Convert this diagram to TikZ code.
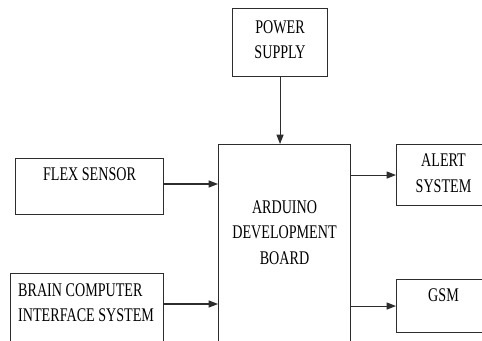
\documentclass[tikz,border=0pt]{standalone}
\usepackage{fontspec}
\setmainfont{Liberation Serif}
\newfontfamily\narrowfont[FakeStretch=0.73]{Liberation Serif}
\usetikzlibrary{arrows.meta,positioning}
\definecolor{linegray}{RGB}{45,45,45}

\begin{document}
\begin{tikzpicture}[
  x=0.03cm, y=-0.03cm,
  box/.style={draw=linegray, line width=0.9pt, anchor=north west, inner sep=0pt},
  txt/.style={font=\narrowfont\fontsize{16.5}{22}\selectfont, inner sep=0pt, align=center, text=black},
  arr/.style={-{Triangle[length=8pt,width=6pt]}, draw=linegray, line width=0.9pt}
]
\useasboundingbox[fill=white] (0,0) rectangle (482,341);
\clip (0,0) rectangle (482,341);

% blocks
\node[box, minimum width=2.85cm, minimum height=2.04cm] (power) at (232,8) {};
\node[box, minimum width=3.96cm, minimum height=7.5cm] (arduino) at (218,144) {};
\node[box, minimum width=4.44cm, minimum height=1.68cm] (flex) at (15,158) {};
\node[box, minimum width=4.59cm, minimum height=3cm] (bci) at (10,273) {};
\node[box, minimum width=2.82cm, minimum height=1.83cm] (alert) at (396,144) {};
\node[box, minimum width=2.82cm, minimum height=1.59cm] (gsm) at (396,279) {};

% block texts
\node[txt, below=0.36cm of power.north] (power-txt) {POWER\\SUPPLY};
\node[txt, below=1.68cm of arduino.north] (arduino-txt) {ARDUINO\\DEVELOPMENT\\BOARD};
\node[txt, below=0.27cm of flex.north] (flex-txt) {FLEX SENSOR};
\node[txt, align=left, below right=0.3cm and 0.24cm of bci.north west] (bci-txt) {BRAIN COMPUTER\\INTERFACE SYSTEM};
\node[txt, below=0.3cm of alert.north] (alert-txt) {ALERT\\SYSTEM};
\node[txt, below=0.27cm of gsm.north] (gsm-txt) {GSM};

% connections
\draw[arr] (power.south) -- (power.south |- arduino.north);
\draw[arr] ([yshift=-0.78cm]flex.north east) -- ([yshift=-0.78cm]flex.north east -| arduino.west);
\draw[arr] ([yshift=-0.93cm]bci.north east) -- ([yshift=-0.93cm]bci.north east -| arduino.west);
\draw[arr] (arduino.east |- alert.west) -- (alert.west);
\draw[arr] (arduino.east |- gsm.west) -- (gsm.west);
\end{tikzpicture}
\end{document}
